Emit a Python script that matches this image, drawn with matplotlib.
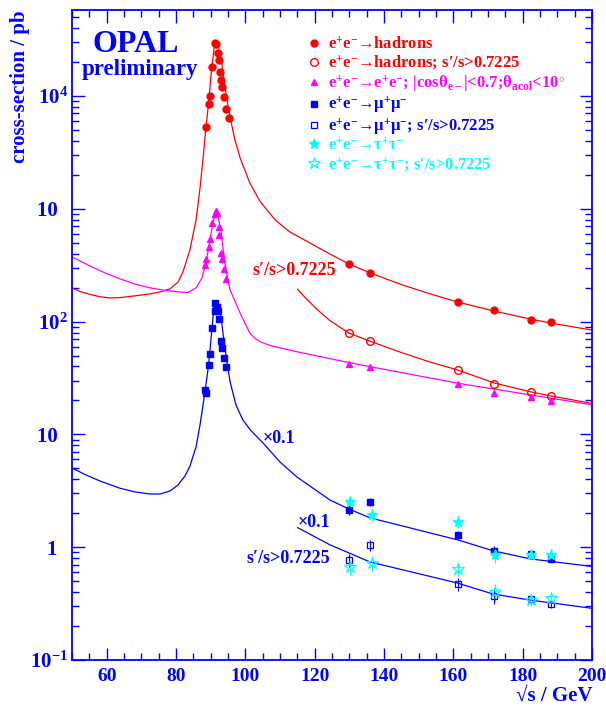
import matplotlib
matplotlib.use("Agg")
import matplotlib.pyplot as plt
from matplotlib.ticker import MultipleLocator, FixedLocator, LogLocator, NullFormatter

plt.rcParams['font.family'] = ['Liberation Serif', 'DejaVu Serif']
plt.rcParams['font.weight'] = 'bold'
plt.rcParams['mathtext.fontset'] = 'custom'
plt.rcParams['mathtext.rm'] = 'Liberation Serif:bold'
plt.rcParams['mathtext.it'] = 'Liberation Serif:bold'
plt.rcParams['mathtext.bf'] = 'Liberation Serif:bold'
plt.rcParams['mathtext.default'] = 'rm'

RED = '#ff0000'
MAG = '#ff00ff'
BLUE = '#0000ff'
CYAN = '#00ffff'

# ---------------- data points ----------------
had_x = [88.65, 89.43, 89.72, 90.38, 91.34, 91.63, 92.2, 92.5, 92.78, 93.07, 93.36, 93.85, 94.5, 95.2,
         130.0, 136.0, 161.3, 171.8, 182.3, 188.2]
had_y = [5278, 8493, 10000, 18200, 29300, 28900, 24200, 20850, 16330, 13860, 12090, 9730, 7710, 6340,
         326, 268, 149, 126, 103, 98.6]

hadp_x = [130.0, 136.0, 161.3, 171.8, 182.3, 188.2]
hadp_y = [78.8, 66.9, 37.0, 28.0, 23.6, 22.0]

ee_x = [88.45, 88.74, 89.43, 89.72, 90.47, 91.16, 91.54, 91.83, 92.32, 92.49, 93.07, 93.36, 93.76, 94.34,
        130.0, 136.0, 161.3, 171.8, 182.3, 188.2]
ee_y = [320, 357, 456, 543, 744, 899, 962, 923, 686, 582, 408, 361, 294, 237,
        41.8, 39.6, 27.8, 23.1, 21.5, 19.8]

mu_x = [88.4, 88.7, 89.43, 89.72, 90.38, 91.34, 91.16, 91.74, 92.2, 92.5, 93.07, 93.36, 93.76, 94.43,
        130.0, 136.0, 161.3, 171.8, 182.3, 188.2]
mu_y = [24.8, 23.1, 41.0, 51.6, 87.8, 147, 123, 136, 123, 106, 67.7, 58.3, 47.6, 39.3,
        2.14, 2.52, 1.28, 0.93, 0.87, 0.79]
mu_err = [0.6, 0.6, 0.8, 0.9, 1.2, 1.6, 1.5, 1.6, 1.5, 1.4, 1.0, 0.9, 0.8, 0.8,
          0.22, 0.2, 0.1, 0.1, 0.05, 0.04]

mup_x = [130.0, 136.0, 161.3, 171.8, 182.3, 188.2]
mup_y = [0.765, 1.04, 0.472, 0.372, 0.347, 0.312]
mup_err = [0.1, 0.12, 0.06, 0.06, 0.03, 0.02]

tau_x = [130.3, 136.4, 161.4, 172.0, 182.4, 188.2]
tau_y = [2.53, 1.94, 1.66, 0.85, 0.85, 0.86]
tau_err = [0.3, 0.25, 0.18, 0.12, 0.06, 0.05]

taup_x = [130.3, 136.4, 161.4, 172.0, 182.4, 188.2]
taup_y = [0.671, 0.72, 0.645, 0.398, 0.340, 0.352]
taup_err = [0.1, 0.11, 0.09, 0.07, 0.04, 0.03]

# ---------------- theory curves ----------------
had_cx = [50, 52.31, 55.19, 58.08, 60.96, 63.85, 68.17, 72.5, 75.38, 78.27, 80.58, 82.0, 84.0, 85.8,
          86.9, 87.8, 88.65, 89.4, 90.1, 91.0, 91.5, 92.1, 93.0, 93.8, 94.7, 95.6, 97.0, 98.5, 101.3,
          104.2, 108.6, 112.9, 118.1, 124.4, 129.9, 136.0, 144.6, 153.3, 161.3, 171.7, 182.4, 188.2, 200]
had_cy = [199, 185, 174, 166, 162, 163, 169, 176, 183, 195, 224, 275, 431, 800,
          1500, 2800, 5300, 8600, 15500, 26700, 30100, 28900, 21700, 13900, 9200, 6500, 4070, 2820, 1690,
          1170, 796, 622, 508, 397, 324, 270, 215, 176, 149, 124, 105, 97, 84]

hadp_cx = [115.1, 117.2, 120.6, 124.4, 129.9, 136.0, 144.6, 148.5, 153.3, 161.3, 171.7, 182.4, 188.2, 200]
hadp_cy = [193, 164, 129, 102, 79, 67, 53.7, 48.9, 43.8, 37.2, 28.6, 23.8, 21.9, 18.8]

ee_cx = [50, 55.19, 59.52, 63.85, 68.17, 72.5, 76.83, 81.15, 83.46, 85.8, 87.5, 88.7, 89.8, 90.7, 91.4,
         92.1, 93.0, 93.8, 94.7, 95.6, 98.5, 101.3, 102.8, 104.2, 107.1, 114.8, 130.0, 161.3, 200]
ee_cy = [374, 311, 270, 239, 215, 199, 189, 183, 181, 199, 244, 338, 529, 764, 937,
         881, 622, 389, 259, 191, 119, 79, 71.1, 66.4, 61.4, 54.1, 43.2, 28.4, 18.3]

mu_cx = [50, 53.75, 58.08, 63.85, 68.17, 72.5, 75.38, 78.27, 80.58, 82.6, 84.04, 85.77, 86.92, 87.79,
         88.51, 89.43, 89.72, 90.38, 91.0, 91.5, 92.1, 93.0, 93.8, 94.7, 95.6, 97.3, 99.3, 101.5,
         105.1, 110.0, 114.9, 124.4, 129.9, 136.0, 161.3, 171.7, 182.4, 200]
mu_cy = [5.04, 4.41, 3.86, 3.33, 3.09, 2.96, 2.96, 3.15, 3.56, 4.28, 5.25, 7.73, 12.1, 18.2,
         25.8, 42, 52, 88, 135, 149, 140, 108, 68.7, 43.8, 29.2, 18.2, 13.4, 10.9,
         8.39, 5.69, 4.19, 2.62, 2.18, 1.82, 1.16, 0.925, 0.786, 0.675]

mup_cx = [115.1, 124.4, 129.9, 136.0, 161.1, 171.4, 182.1, 200]
mup_cy = [1.49, 1.05, 0.889, 0.739, 0.482, 0.385, 0.340, 0.287]

# tick labels
y_ticks = [0.1, 1, 10, 100, 1000, 10000]
y_ticklabels = ['10$^{-1}$', '1  ', '10  ', '10$^{2}$', '10  ', '10$^{4}$']
x_ticks = [60, 80, 100, 120, 140, 160, 180, 200]

labels = ['e$^{+}$e$^{-}$→hadrons',
          'e$^{+}$e$^{-}$→hadrons; s′/s>0.7225',
          'e$^{+}$e$^{-}$→e$^{+}$e$^{-}$; |cosθ$_{e-}$|<0.7;θ$_{acol}$<10$^{\\circ}$',
          'e$^{+}$e$^{-}$→μ$^{+}$μ$^{-}$',
          'e$^{+}$e$^{-}$→μ$^{+}$μ$^{-}$; s′/s>0.7225',
          'e$^{+}$e$^{-}$→τ$^{+}$τ$^{-}$',
          'e$^{+}$e$^{-}$→τ$^{+}$τ$^{-}$; s′/s>0.7225']

# ---------------- figure ----------------
W, H = 606, 706
fig = plt.figure(figsize=(W / 100, H / 100), dpi=100)
ax = fig.add_axes([72 / W, 1 - 660 / H, 520 / W, 650 / H])
ax.set_yscale('log')
ax.set_xlim(50, 200)
ax.set_ylim(0.1, 5.78e4)

lw = 0.9
ax.plot(had_cx, had_cy, '-', color=RED, lw=lw)
ax.plot(hadp_cx, hadp_cy, '-', color=RED, lw=lw)
ax.plot(ee_cx, ee_cy, '-', color=MAG, lw=lw)
ax.plot(mu_cx, mu_cy, '-', color=BLUE, lw=lw)
ax.plot(mup_cx, mup_cy, '-', color=BLUE, lw=lw)

h1, = ax.plot(had_x, had_y, 'o', color=RED, ms=5, ls='none', label=labels[0])
h2, = ax.plot(hadp_x, hadp_y, 'o', mfc='none', mec=RED, mew=1.0, ms=5.5, ls='none', label=labels[1])
h3, = ax.plot(ee_x, ee_y, '^', color=MAG, ms=4.5, ls='none', label=labels[2])
e4 = ax.errorbar(mu_x, mu_y, yerr=mu_err, fmt='s', color=BLUE, ms=4.5, elinewidth=0.8, capsize=0, label=labels[3])
e5 = ax.errorbar(mup_x, mup_y, yerr=mup_err, fmt='s', mfc='none', mec=BLUE, color=BLUE, mew=0.9, ms=5,
                 elinewidth=0.8, capsize=0, label=labels[4])
e6 = ax.errorbar(tau_x, tau_y, yerr=tau_err, fmt='*', color=CYAN, ms=8, elinewidth=0.8, capsize=0, label=labels[5])
e7 = ax.errorbar(taup_x, taup_y, yerr=taup_err, fmt='*', mfc='none', mec=CYAN, color=CYAN, mew=0.9, ms=9,
                 elinewidth=0.8, capsize=0, label=labels[6])

# axes styling
for sp in ax.spines.values():
    sp.set_color(BLUE)
    sp.set_linewidth(1.3)
ax.xaxis.set_major_locator(FixedLocator(x_ticks))
ax.xaxis.set_minor_locator(MultipleLocator(5))
ax.yaxis.set_major_locator(FixedLocator(y_ticks))
ax.yaxis.set_minor_locator(LogLocator(base=10, subs=range(2, 10), numticks=20))
ax.yaxis.set_minor_formatter(NullFormatter())
ax.set_yticklabels(y_ticklabels)
ax.set_xticklabels([str(v) for v in x_ticks])
ax.tick_params(which='both', direction='in', top=True, right=True, color=BLUE, labelcolor=BLUE, width=1.0)
ax.tick_params(which='major', length=9)
ax.tick_params(which='minor', length=5)
ax.tick_params(axis='x', pad=6, labelsize=14)
ax.tick_params(axis='y', pad=3, labelsize=15)

ax.set_ylabel('cross-section / pb', color=BLUE, fontsize=15, fontweight='bold', loc='top')
ax.yaxis.set_label_coords(-0.080, 1.0)
ax.set_xlabel('√s / GeV', color=BLUE, fontsize=15, fontweight='bold', loc='right')
ax.xaxis.set_label_coords(1.0, -0.039)

fig.text(93 / W, 1 - 51.7 / H, 'OPAL', color=BLUE, fontsize=23, fontweight='bold', ha='left', va='baseline')
fig.text(82 / W, 1 - 75 / H, 'preliminary', color=BLUE, fontsize=16.5, fontweight='bold', ha='left', va='baseline')

ax.text(102.1, 259, 's′/s>0.7225', color=RED, fontsize=13, fontweight='bold', va='baseline')
ax.text(105.1, 8.4, '×0.1', color=BLUE, fontsize=13, fontweight='bold', va='baseline')
ax.text(115.2, 1.50, '×0.1', color=BLUE, fontsize=13, fontweight='bold', va='baseline')
ax.text(100.2, 0.729, 's′/s>0.7225', color=BLUE, fontsize=13, fontweight='bold', va='baseline')

handles = [h1, h2, h3, e4[0], e5[0], e6[0], e7[0]]
leg = ax.legend(handles, labels, loc='upper left', bbox_to_anchor=(306 / W, 1 - 36.5 / H),
                bbox_transform=fig.transFigure, frameon=False, fontsize=12, handlelength=1.0,
                handletextpad=0.3, labelspacing=0.05, borderpad=0, borderaxespad=0)
for t, c in zip(leg.get_texts(), [RED, RED, MAG, BLUE, BLUE, CYAN, CYAN]):
    t.set_color(c)

fig.savefig('out.png', dpi=100)
